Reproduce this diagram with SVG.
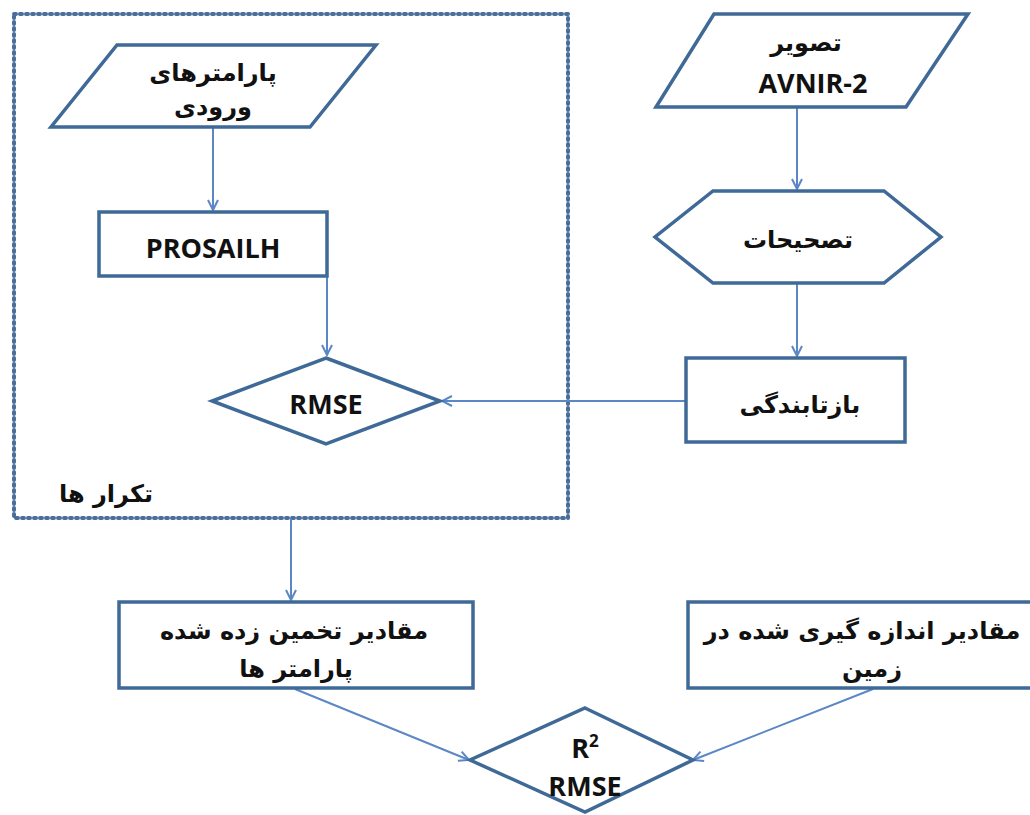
<svg xmlns="http://www.w3.org/2000/svg" width="1030" height="815" viewBox="0 0 1030 815">
<style>
.node{fill:#ffffff;stroke:#3f6a97;stroke-width:3.5;stroke-linejoin:miter}
.conn{fill:none;stroke:#5b87c5;stroke-width:2}
.fa{font-family:"DejaVu Sans",sans-serif;font-weight:bold;font-size:24px;fill:#111;text-anchor:middle}
.en{font-family:"Open Sans",Lato,sans-serif;font-weight:bold;font-size:27px;fill:#111;text-anchor:middle}
</style>
<defs>
<marker id="arr" viewBox="0 0 12 12" refX="11" refY="6" markerWidth="12" markerHeight="12" markerUnits="userSpaceOnUse" orient="auto">
<path d="M1,1 L11,6 L1,11" fill="none" stroke="#5b87c5" stroke-width="2"/>
</marker>
</defs>
<g id="frame">
<rect x="14" y="14" width="554" height="504" fill="none" stroke="#4a6e9a" stroke-width="4" stroke-dasharray="2 4" stroke-linecap="round"/>
<text class="fa" x="106" y="502" font-size="25">تکرار ها</text>
</g>
<g id="connectors">
<line class="conn" x1="213" y1="128" x2="213" y2="210" marker-end="url(#arr)"/>
<line class="conn" x1="327" y1="277" x2="327" y2="355" marker-end="url(#arr)"/>
<line class="conn" x1="797" y1="108" x2="797" y2="189" marker-end="url(#arr)"/>
<line class="conn" x1="797" y1="284" x2="797" y2="356" marker-end="url(#arr)"/>
<line class="conn" x1="686" y1="401" x2="442" y2="401" marker-end="url(#arr)"/>
<line class="conn" x1="291" y1="519" x2="291" y2="600" marker-end="url(#arr)"/>
<line class="conn" x1="295" y1="689" x2="469" y2="760" marker-end="url(#arr)"/>
<line class="conn" x1="873" y1="689" x2="693" y2="760" marker-end="url(#arr)"/>
</g>
<g id="input-params">
<polygon class="node" points="117,45 376,45 310,127 51,127"/>
<text class="fa" x="213" y="81">پارامترهای</text>
<text class="fa" x="213" y="115">ورودی</text>
</g>
<g id="prosailh">
<rect class="node" x="99" y="212" width="228" height="64"/>
<text class="en" x="213" y="258">PROSAILH</text>
</g>
<g id="rmse">
<polygon class="node" points="326,358 440,401 326,444 212,401"/>
<text class="en" x="326" y="414">RMSE</text>
</g>
<g id="avnir">
<polygon class="node" points="714,14 968,14 906,107 656,107"/>
<text class="fa" x="806" y="51">تصویر</text>
<text class="en" x="813" y="93" font-size="29">AVNIR-2</text>
</g>
<g id="corrections">
<polygon class="node" points="713,191 884,191 941,237 884,283 713,283 655,237"/>
<text class="fa" x="798" y="248" font-size="26">تصحیحات</text>
</g>
<g id="reflectance">
<rect class="node" x="686" y="358" width="219" height="84"/>
<text class="fa" x="800" y="413">بازتابندگی</text>
</g>
<g id="estimated">
<rect class="node" x="119" y="602" width="354" height="86"/>
<text class="fa" x="294" y="639">مقادیر تخمین زده شده</text>
<text class="fa" x="296" y="677">پارامتر ها</text>
</g>
<g id="measured">
<rect class="node" x="688" y="602" width="350" height="86"/>
<text class="fa" x="862" y="639">مقادیر اندازه گیری شده در</text>
<text class="fa" x="872" y="677">زمین</text>
</g>
<g id="final">
<polygon class="node" points="585,708 693,760 585,812 470,760"/>
<text class="en" x="585" y="758">R<tspan font-size="17" dy="-11">2</tspan></text>
<text class="en" x="585" y="796">RMSE</text>
</g>
</svg>
